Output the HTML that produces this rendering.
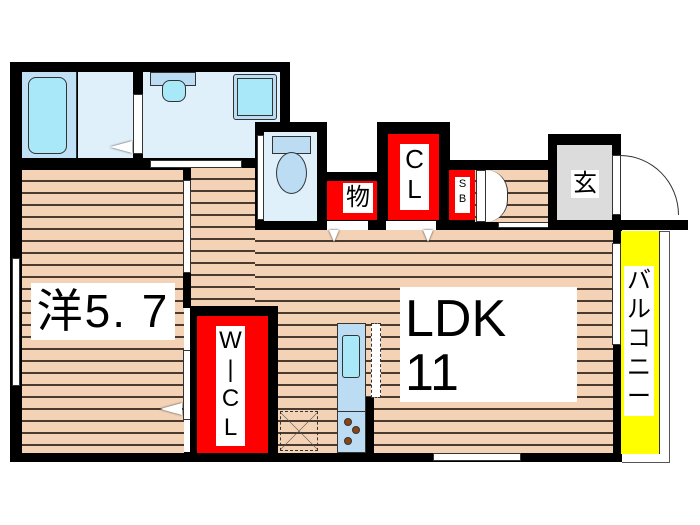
<!DOCTYPE html><html><head><meta charset="utf-8"><style>
body{margin:0;width:700px;height:525px;background:#fff;position:relative;overflow:hidden;font-family:"Liberation Sans","Noto Sans CJK JP",sans-serif}
div{position:absolute;box-sizing:border-box}
.k{background:#000}
.fl{background:repeating-linear-gradient(#f3d2b5 0,#f3d2b5 10px,#4a3a30 10px,#4a3a30 12px)}
.lb{background:#dff0fb}
.w{background:#fff}
.r{background:#f00}
.tri{width:0;height:0;border-left:5px solid transparent;border-right:5px solid transparent;border-top:12px solid #fff}
</style></head><body>
<div class="k" style="left:10px;top:62px;width:280px;height:110px"></div>
<div class="k" style="left:10px;top:160px;width:14px;height:302px"></div>
<div class="k" style="left:10px;top:452px;width:612px;height:10px"></div>
<div class="k" style="left:612px;top:222px;width:10px;height:240px"></div>
<div class="k" style="left:255px;top:220px;width:433px;height:10px"></div>
<div class="fl" style="left:22px;top:170px;width:162px;height:283px"></div>
<div class="fl" style="left:190px;top:168px;width:66px;height:285px"></div>
<div class="fl" style="left:255px;top:230px;width:358px;height:223px"></div>
<div style="left:22px;top:72px;width:55px;height:86px;background:#bfe0f5;border-right:1px solid #333"></div>
<div style="left:28px;top:77px;width:39px;height:77px;background:#a8e8f8;border:1px solid #333;border-radius:8px"></div>
<div class="lb" style="left:78px;top:72px;width:55px;height:86px"></div>
<div class="w" style="left:133px;top:94px;width:10px;height:60px;border:1px solid #333"></div>
<div style="left:110px;top:141px;width:0;height:0;border-top:6px solid transparent;border-bottom:6px solid transparent;border-right:22px solid #fff;filter:drop-shadow(0 0 1px #333)"></div>
<div class="lb" style="left:143px;top:72px;width:137px;height:86px"></div>
<div style="left:150px;top:72px;width:46px;height:14px;background:#bcdcf4;border:1px solid #333"></div>
<div style="left:162px;top:80px;width:24px;height:22px;background:#a8e8f8;border:1px solid #333;border-radius:8px"></div>
<div style="left:233px;top:74px;width:44px;height:46px;background:#bcdcf4;border:1px solid #333;border-radius:3px"></div>
<div style="left:237px;top:78px;width:36px;height:38px;background:#a8e8f8;border:1px solid #333"></div>
<div class="w" style="left:150px;top:160px;width:92px;height:8px;border:1px solid #333"></div>
<div class="k" style="left:255px;top:122px;width:72px;height:108px"></div>
<div class="lb" style="left:264px;top:132px;width:53px;height:89px"></div>
<div class="w" style="left:257px;top:135px;width:7px;height:85px;border:1px solid #333"></div>
<div style="left:272px;top:136px;width:39px;height:18px;background:#bcdcf4;border:1px solid #333"></div>
<div style="left:276px;top:152px;width:31px;height:42px;background:#bcdcf4;border:1px solid #333;border-radius:50%"></div>
<div class="k" style="left:320px;top:172px;width:60px;height:58px"></div>
<div class="r" style="left:327px;top:181px;width:50px;height:39px"></div>
<div class="w" style="left:343px;top:183px;width:30px;height:30px;font-size:24px;line-height:30px;text-align:center">物</div>
<div class="w" style="left:327px;top:221px;width:41px;height:9px"></div>
<div class="tri" style="left:329px;top:230px;filter:drop-shadow(0 0 1px #333)"></div>
<div class="k" style="left:377px;top:122px;width:73px;height:108px"></div>
<div class="r" style="left:388px;top:134px;width:51px;height:86px"></div>
<div class="w" style="left:400px;top:144px;width:29px;height:66px;font-size:26px;line-height:30px;text-align:center">C<br>L</div>
<div class="w" style="left:386px;top:221px;width:50px;height:9px"></div>
<div class="tri" style="left:423px;top:230px;filter:drop-shadow(0 0 1px #333)"></div>
<div class="r" style="left:449px;top:170px;width:26px;height:50px"></div>
<div class="w" style="left:455px;top:177px;width:15px;height:36px;font-size:11px;line-height:15px;text-align:center">S<br>B</div>
<div class="k" style="left:450px;top:160px;width:100px;height:10px"></div>
<div class="fl" style="left:475px;top:170px;width:80px;height:52px"></div>
<div class="w" style="left:476px;top:170px;width:10px;height:52px;border:1px solid #333"></div>
<div class="w" style="left:486px;top:170px;width:22px;height:52px;border-right:1px solid #333;border-radius:0 26px 26px 0"></div>
<div class="w" style="left:498px;top:222px;width:55px;height:6px;border:1px solid #333"></div>
<div class="k" style="left:548px;top:134px;width:73px;height:96px"></div>
<div style="left:557px;top:145px;width:55px;height:75px;background:#dcdcdc"></div>
<div class="w" style="left:571px;top:170px;width:28px;height:28px;font-size:24px;line-height:28px;text-align:center">玄</div>
<div class="w" style="left:612px;top:155px;width:9px;height:60px;border:1px solid #333"></div>
<div style="left:561px;top:155px;width:118px;height:120px;border:1px solid #333;border-radius:50%;clip-path:inset(0 0 60px 60px)"></div>
<div style="left:622px;top:231px;width:48px;height:232px;border:1px solid #555;border-left:none;background:#fff"></div>
<div style="left:621px;top:231px;width:39px;height:223px;background:#ff0;border-right:1px solid #333"></div>
<div class="w" style="left:624px;top:266px;width:30px;height:150px;font-size:24px;line-height:29px;text-align:center">バ<br>ル<br>コ<br>ニ<br>ー</div>
<div class="w" style="left:612px;top:243px;width:9px;height:102px;border:1px solid #333"></div>
<div class="k" style="left:183px;top:168px;width:8px;height:140px"></div>
<div class="w" style="left:183px;top:180px;width:8px;height:93px;border:1px solid #333"></div>
<div class="w" style="left:183px;top:350px;width:8px;height:70px;border:1px solid #333"></div>
<div style="left:160px;top:403px;width:0;height:0;border-top:6px solid transparent;border-bottom:6px solid transparent;border-right:22px solid #fff;filter:drop-shadow(0 0 1px #333)"></div>
<div class="w" style="left:12px;top:258px;width:8px;height:128px;border:1px solid #333"></div>
<div class="w" style="left:31px;top:283px;width:144px;height:57px;font-size:46px;line-height:57px;text-align:center;letter-spacing:2px">洋5. 7</div>
<div class="k" style="left:190px;top:306px;width:88px;height:150px"></div>
<div class="r" style="left:197px;top:316px;width:71px;height:137px"></div>
<div class="w" style="left:216px;top:326px;width:29px;height:120px;font-size:24px;line-height:29px;text-align:center">W<br>|<br>C<br>L</div>
<div style="left:280px;top:411px;width:38px;height:40px;border:1px dashed #333;background:linear-gradient(45deg,transparent 49%,#555 50%,transparent 51%),linear-gradient(-45deg,transparent 49%,#555 50%,transparent 51%)"></div>
<div style="left:337px;top:323px;width:29px;height:130px;background:#bcdcf4;border:1px solid #333"></div>
<div style="left:342px;top:335px;width:18px;height:43px;background:#a8e8f8;border:1px solid #333;border-radius:3px"></div>
<div style="left:337px;top:411px;width:29px;height:1px;background:#333"></div>
<div style="left:344px;top:418px;width:8px;height:8px;background:#8b4513;border-radius:50%;border:1px solid #333"></div>
<div style="left:352px;top:426px;width:8px;height:8px;background:#8b4513;border-radius:50%;border:1px solid #333"></div>
<div style="left:344px;top:437px;width:8px;height:8px;background:#8b4513;border-radius:50%;border:1px solid #333"></div>
<div class="k" style="left:366px;top:397px;width:8px;height:58px"></div>
<div class="w" style="left:371px;top:323px;width:10px;height:75px;border:1px dashed #333"></div>
<div class="w" style="left:400px;top:287px;width:177px;height:115px;font-size:52px;line-height:54px;padding:5px 0 0 5px">LDK<br>11</div>
<div class="w" style="left:433px;top:453px;width:88px;height:8px;border:1px solid #333"></div>
</body></html>
